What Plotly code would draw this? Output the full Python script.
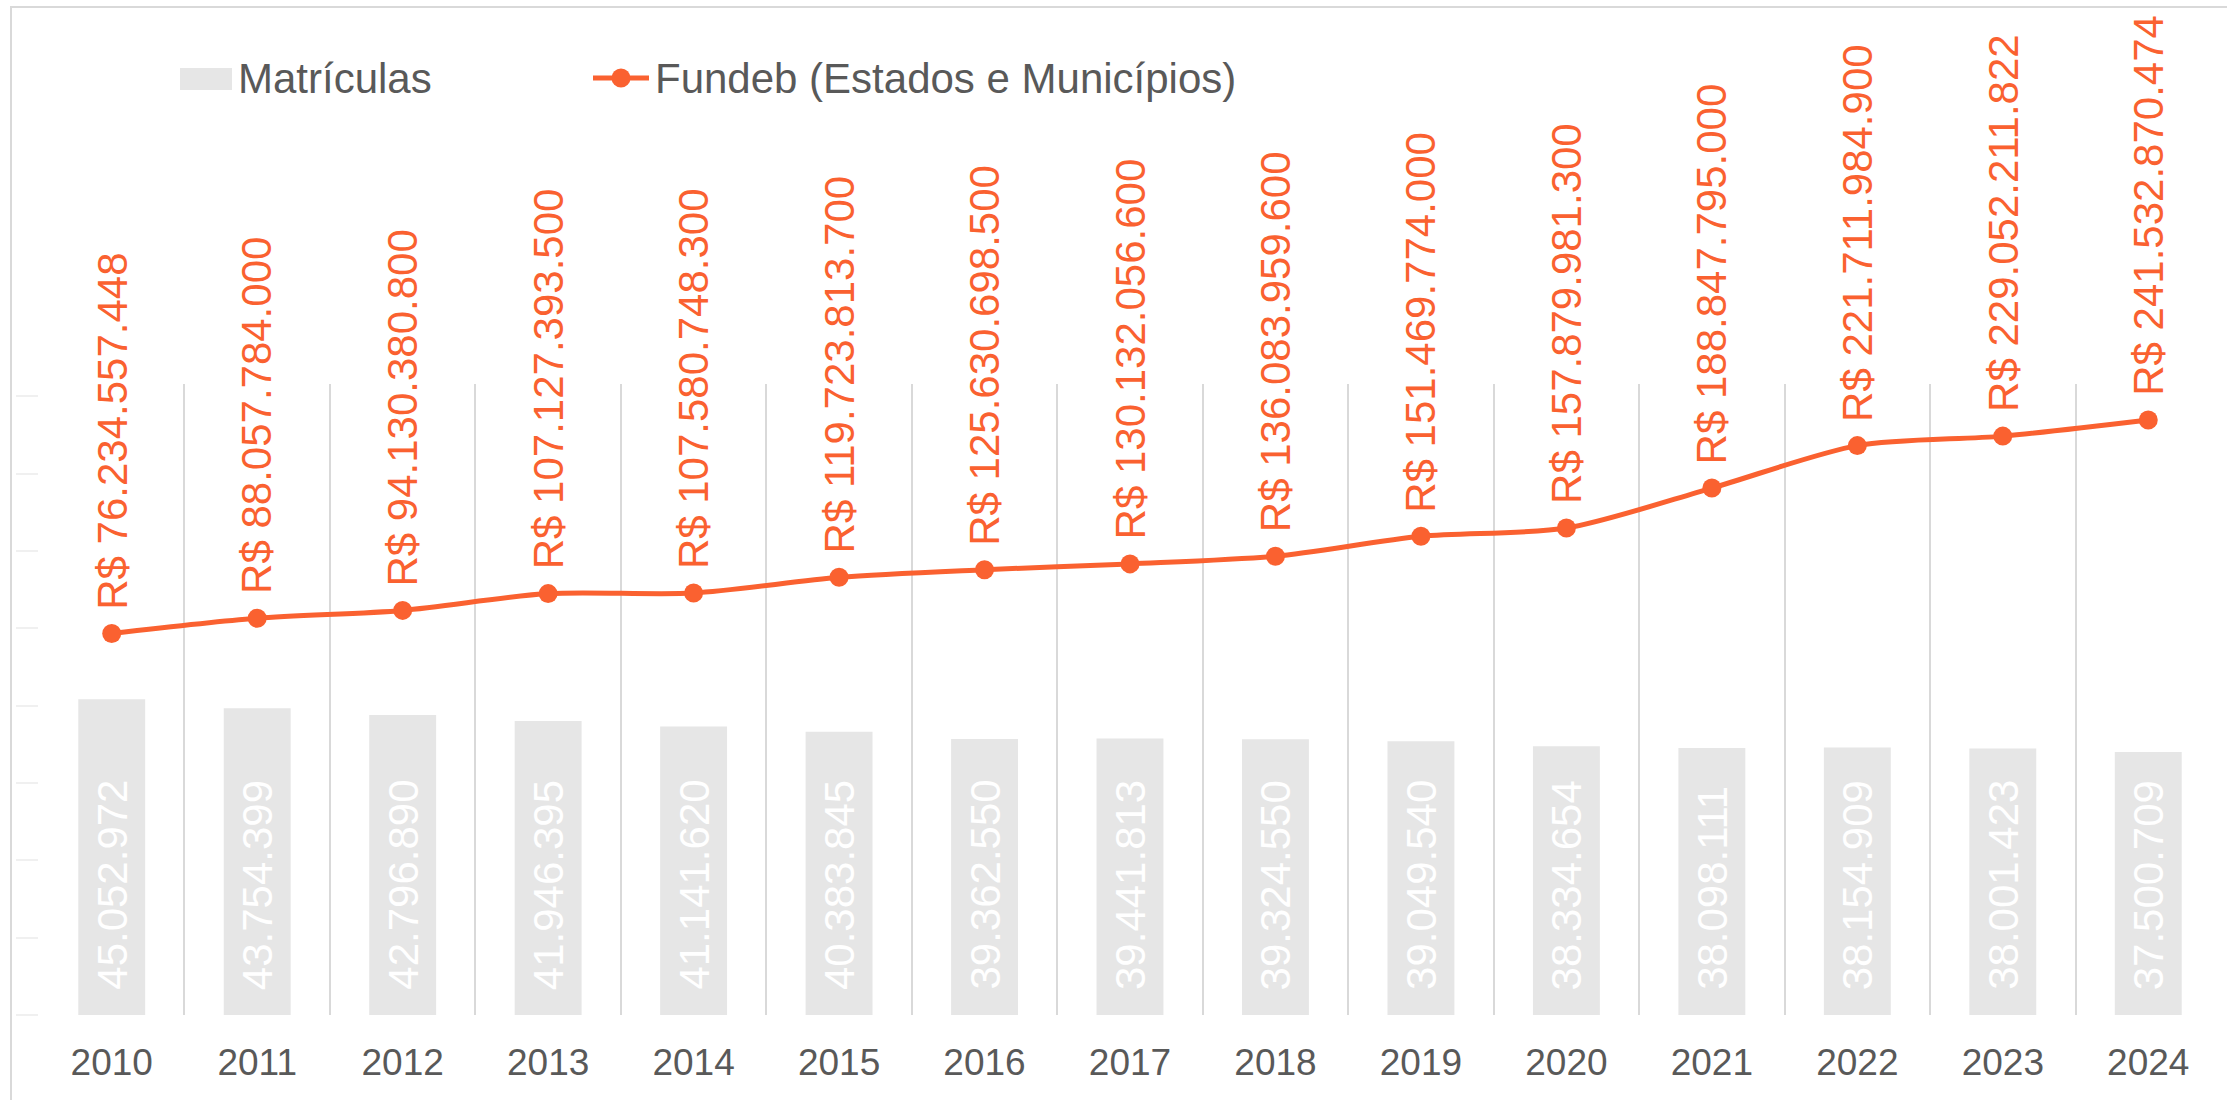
import plotly.graph_objects as go

years = ["2010", "2011", "2012", "2013", "2014", "2015", "2016", "2017",
         "2018", "2019", "2020", "2021", "2022", "2023", "2024"]
matriculas = [45052972, 43754399, 42796890, 41946395, 41141620, 40383845,
              39362550, 39441813, 39324550, 39049540, 38334654, 38098111,
              38154909, 38001423, 37500709]
fundeb = [76234557448, 88057784000, 94130380800, 107127393500, 107580748300,
          119723813700, 125630698500, 130132056600, 136083959600,
          151469774000, 157879981300, 188847795000, 221711984900,
          229052211822, 241532870474]
series_names = ["Matrículas", "Fundeb (Estados e Municípios)"]


def br(n):
    return f"{n:,}".replace(",", ".")


bar_labels = [br(v) for v in matriculas]
line_labels = ["R$ " + br(v) for v in fundeb]

W, H = 2227, 1100
PL, PR, PT, PB = 39, 2221, 384, 1015  # plot area in pixels
ORANGE = "#FA6130"
BARC = "#E6E6E6"
TXT = "#595959"
GRID = "#D9D9D9"
FONT = "Liberation Sans, Arial, sans-serif"


def px_x(p):
    return (p - PL) / (PR - PL)


def px_y(p):
    return (PB - p) / (PB - PT)


fig = go.Figure()
fig.add_trace(go.Bar(
    x=years, y=matriculas, name=series_names[0], marker_color=BARC,
    marker_line_width=0, width=0.46, showlegend=False, hoverinfo="x+y",
))
fig.add_trace(go.Scatter(
    x=years, y=fundeb, name=series_names[1], yaxis="y2", mode="lines+markers",
    line=dict(color=ORANGE, width=5, shape="spline", smoothing=0.8),
    marker=dict(color=ORANGE, size=19), showlegend=False,
))

annotations = []
for i, (v, lab) in enumerate(zip(matriculas, bar_labels)):
    annotations.append(dict(
        x=i, y=0, xref="x", yref="y", text=lab, textangle=-90,
        showarrow=False, xanchor="center", yanchor="bottom", yshift=23,
        font=dict(family=FONT, size=42, color="#FFFFFF"),
    ))
for i, (v, lab) in enumerate(zip(fundeb, line_labels)):
    annotations.append(dict(
        x=i, y=v, xref="x", yref="y2", text=lab, textangle=-90,
        showarrow=False, xanchor="center", yanchor="bottom", yshift=22,
        font=dict(family=FONT, size=42, color=ORANGE),
    ))

# manual legend
annotations.append(dict(
    x=px_x(236), y=px_y(78), xref="paper", yref="paper", text=series_names[0],
    showarrow=False, xanchor="left", yanchor="middle",
    font=dict(family=FONT, size=42, color=TXT),
))
annotations.append(dict(
    x=px_x(653), y=px_y(78), xref="paper", yref="paper", text=series_names[1],
    showarrow=False, xanchor="left", yanchor="middle",
    font=dict(family=FONT, size=42, color=TXT),
))

shapes = [
    # outer chart border
    dict(type="rect", xref="paper", yref="paper",
         x0=px_x(11), x1=px_x(2240), y0=px_y(1110), y1=px_y(7),
         line=dict(color=GRID, width=2), fillcolor="rgba(0,0,0,0)", layer="below"),
    # legend swatches
    dict(type="rect", xref="paper", yref="paper",
         x0=px_x(180), x1=px_x(232), y0=px_y(90), y1=px_y(68),
         line=dict(width=0), fillcolor=BARC),
    dict(type="line", xref="paper", yref="paper",
         x0=px_x(593), x1=px_x(649), y0=px_y(78), y1=px_y(78),
         line=dict(color=ORANGE, width=5)),
    dict(type="circle", xref="paper", yref="paper",
         x0=px_x(611.5), x1=px_x(630.5), y0=px_y(87.5), y1=px_y(68.5),
         line=dict(width=0), fillcolor=ORANGE),
]

y1max = 90e6
y2_range = [-219.1e9, 269.4e9]

fig.update_layout(
    width=W, height=H,
    margin=dict(l=PL, r=W - PR, t=PT, b=H - PB, pad=0),
    paper_bgcolor="white", plot_bgcolor="white",
    font=dict(family=FONT, color=TXT),
    showlegend=False,
    annotations=annotations,
    shapes=shapes,
    xaxis=dict(
        type="category", categoryorder="array", categoryarray=years,
        range=[-0.5, len(years) - 0.5], autorange=False,
        tickson="boundaries", showgrid=True,
        gridcolor=GRID, gridwidth=2, ticks="", showline=False,
        tickfont=dict(family=FONT, size=37, color=TXT), tickangle=0,
        ticklabelstandoff=22, zeroline=False,
    ),
    yaxis=dict(
        range=[0, y1max], autorange=False, showgrid=False, zeroline=False,
        showticklabels=False, ticks="outside", ticklen=22,
        tickcolor="#F0F0F0", tickwidth=2, tickmode="linear",
        tick0=0, dtick=11.03e6, showline=False,
    ),
    yaxis2=dict(
        range=y2_range, autorange=False, overlaying="y", side="right",
        showgrid=False, zeroline=False, showticklabels=False, showline=False,
    ),
)

fig.write_html(
    "out.html",
    config={"displayModeBar": False},
    post_script="document.body.style.margin='0';document.body.style.overflow='hidden';",
)
